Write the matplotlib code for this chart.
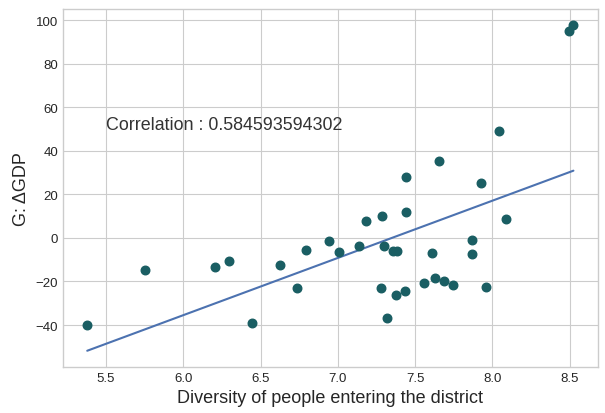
import numpy as np
import matplotlib
matplotlib.use('Agg')
import matplotlib.pyplot as plt

# diversity of people entering the district vs GDP change
diversity = [5.379, 5.753, 6.206, 6.299, 6.446, 6.627, 6.738, 6.797, 6.944, 7.006,
             7.138, 7.179, 7.286, 7.442, 7.301, 7.355, 7.381, 7.277, 7.379, 7.435,
             7.318, 7.558, 7.612, 7.630, 7.684, 7.747, 7.870, 7.870, 7.959, 8.089,
             8.498, 8.524, 8.041, 7.654, 7.442, 7.924]
dgdp = [-39.8, -14.9, -13.3, -10.6, -39.2, -12.6, -23.2, -5.6, -1.6, -6.5,
        -3.8, 7.6, 9.9, 12.0, -3.9, -6.1, -6.1, -23.2, -26.0, -24.3,
        -36.9, -20.5, -6.7, -18.2, -19.9, -21.5, -1.1, -7.3, -22.6, 8.7,
        95.1, 98.0, 49.4, 35.2, 28.1, 25.4]
corr_text = 'Correlation : 0.584593594302'

plt.style.use('seaborn-v0_8-whitegrid')
plt.rcParams['font.family'] = ['Liberation Sans', 'DejaVu Sans']

x = np.array(diversity)
y = np.array(dgdp)
# least squares line
slope, intercept = np.polyfit(x, y, 1)
xs = np.sort(x)

fig = plt.figure(figsize=(6.05, 4.14), dpi=100)
ax = fig.add_axes([0.104, 0.111, 0.884, 0.866])
ax.scatter(x, y, color='#1a5e63', s=38, zorder=3)
ax.plot(xs, slope * xs + intercept, color='#4c72b0', lw=1.5)
ax.text(5.5, 50, corr_text, fontsize=12.9, color='#333333')
ax.set_xlabel('Diversity of people entering the district', fontsize=13)
ax.set_ylabel('G: ΔGDP', fontsize=13)
ax.tick_params(labelsize=9.5)
for sp in ax.spines.values():
    sp.set_visible(True)
    sp.set_color('#cccccc')
    sp.set_linewidth(1)
fig.savefig('out.png', dpi=100)
